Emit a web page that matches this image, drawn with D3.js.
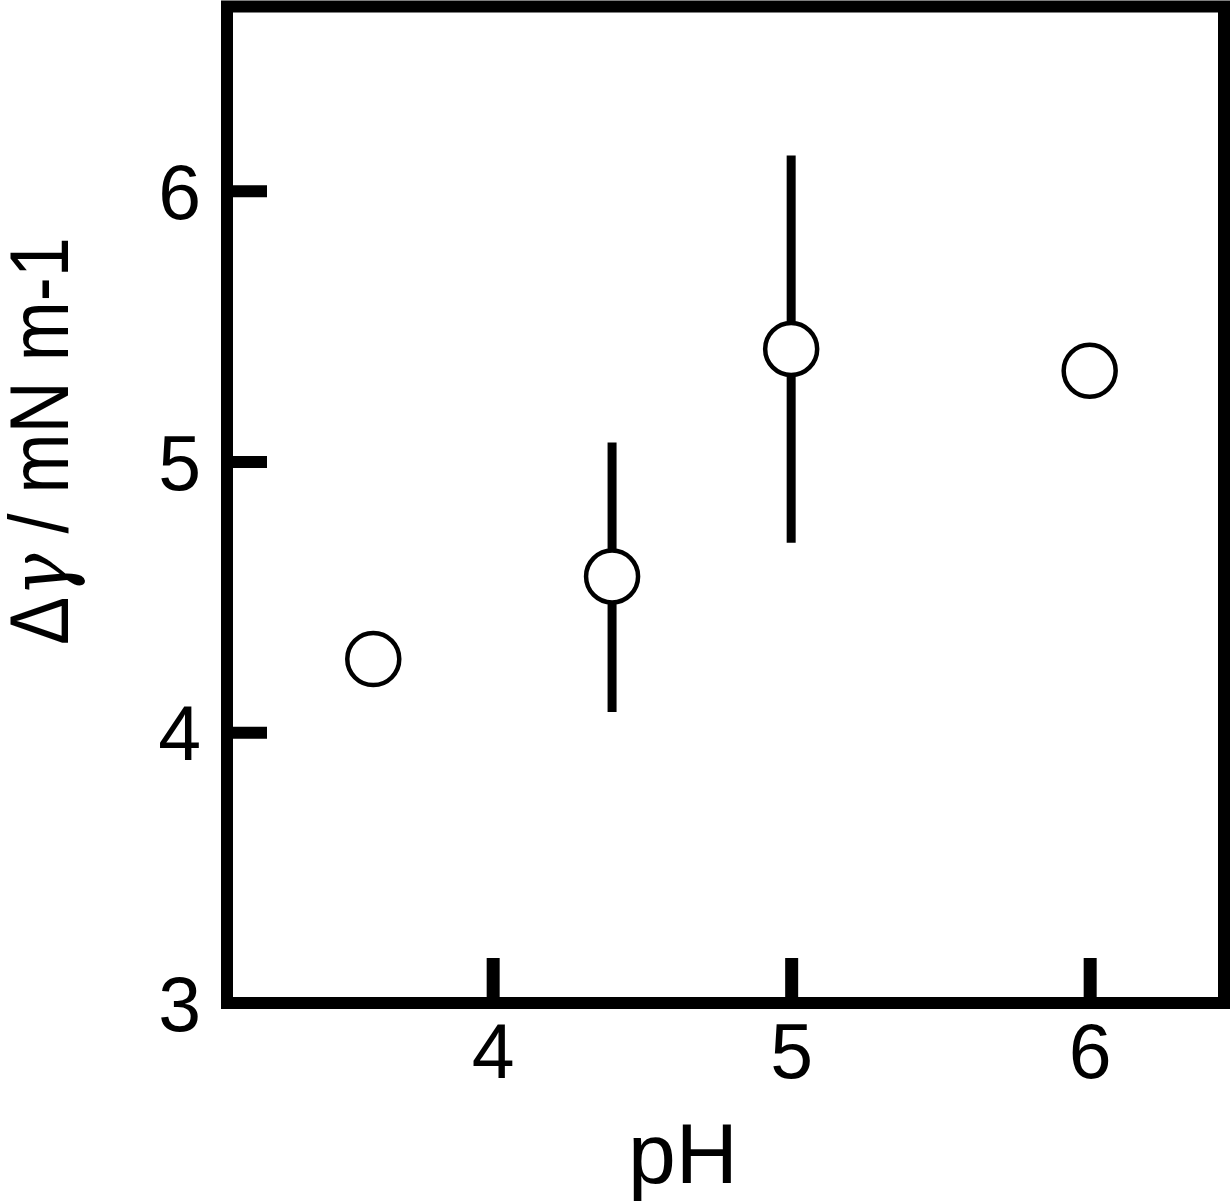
<!DOCTYPE html>
<html><head><meta charset="utf-8">
<script src="https://cdn.jsdelivr.net/npm/d3@7"></script>
<style>body{margin:0;background:#fff}svg{display:block}</style>
</head><body>
<script>
const pH = [3.6, 4.4, 5.0, 6.0];
const deltaGamma = [4.27, 4.575, 5.415, 5.335];
const errLow = [null, 4.075, 4.70, null];
const errHigh = [null, 5.07, 6.13, null];
const xTicks = [4, 5, 6];
const yTicks = [3, 4, 5, 6];

const W = 1231, H = 1203;
const L = 227, R = 1224, T = 6.5, B = 1003;
const svg = d3.select("body").append("svg").attr("width", W).attr("height", H);
const x = d3.scaleLinear().domain([3.11, 6.45]).range([L, R]);
const y = d3.scaleLinear().domain([3, 6.68]).range([B, T]);
const font = "'Liberation Sans', Arial, sans-serif";

// error bars
const pts = pH.map((p, i) => ({x: p, y: deltaGamma[i], lo: errLow[i], hi: errHigh[i]}));
svg.append("g").selectAll("line").data(pts.filter(d => d.lo != null)).join("line")
  .attr("x1", d => x(d.x)).attr("x2", d => x(d.x))
  .attr("y1", d => y(d.lo)).attr("y2", d => y(d.hi))
  .attr("stroke", "#000").attr("stroke-width", 9);

// points
svg.append("g").selectAll("circle").data(pts).join("circle")
  .attr("cx", d => x(d.x)).attr("cy", d => y(d.y)).attr("r", 26)
  .attr("fill", "#fff").attr("stroke", "#000").attr("stroke-width", 4.5);

// ticks (inward)
const yAxis = d3.axisLeft(y).tickValues(yTicks).tickSize(-40).tickPadding(26).tickFormat(d3.format("d"));
const gy = svg.append("g").attr("transform", `translate(${L},0)`).call(yAxis);
gy.select(".domain").remove();
gy.selectAll(".tick line").attr("stroke", "#000").attr("stroke-width", 12);
gy.selectAll(".tick").filter(d => d === 3).select("line").remove();
gy.selectAll(".tick text").attr("font-family", font).attr("font-size", 77).attr("fill", "#000")
  .attr("dy", "0.36em");

const xAxis = d3.axisBottom(x).tickValues(xTicks).tickSize(-45).tickPadding(20).tickFormat(d3.format("d"));
const gx = svg.append("g").attr("transform", `translate(0,${B})`).call(xAxis);
gx.select(".domain").remove();
gx.selectAll(".tick line").attr("stroke", "#000").attr("stroke-width", 13);
gx.selectAll(".tick text").attr("font-family", font).attr("font-size", 77).attr("fill", "#000");

// frame
svg.append("rect").attr("x", L).attr("y", T).attr("width", R - L).attr("height", B - T)
  .attr("fill", "none").attr("stroke", "#000").attr("stroke-width", 12);

// axis titles
svg.append("text").attr("x", 683).attr("y", 1183)
  .attr("text-anchor", "middle").attr("font-family", font).attr("font-size", 86).attr("fill", "#000")
  .text("pH");

const yl = svg.append("text").attr("transform", `translate(68,441) rotate(-90)`)
  .attr("text-anchor", "middle").attr("font-family", font).attr("font-size", 83).attr("fill", "#000")
  .attr("textLength", 408).attr("lengthAdjust", "spacingAndGlyphs");
yl.append("tspan").text("Δ");
yl.append("tspan").attr("font-style", "italic").attr("font-family", "'DejaVu Serif', serif").text("γ");
yl.append("tspan").text(" / mN m-1");
</script>
</body></html>
